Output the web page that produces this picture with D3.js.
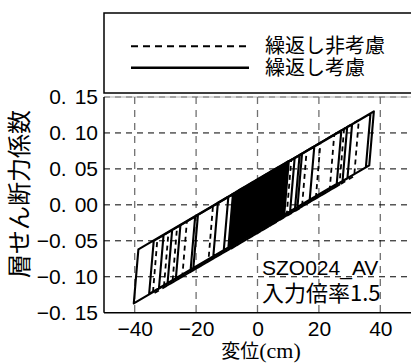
<!DOCTYPE html>
<meta charset="utf-8">
<style>
body { margin: 0; background: #fff; }
svg { display: block; background: #fff; }
.tick text { font-family: "Liberation Sans", Arial, sans-serif; font-size: 21px; fill: #000; }
.jp { font-family: "Noto Sans CJK JP", sans-serif; fill: #000; }
</style>

<svg width="411" height="363"></svg>

<script src="https://d3js.org/d3.v7.min.js"></script>
<script>

// tick values and labels
var xTicks = [-40, -20, 0, 20, 40];
var yTicks = [-0.15, -0.10, -0.05, 0.00, 0.05, 0.10, 0.15];
var seriesNames = ["繰返し非考慮", "繰返し考慮"];
var caseLabels = ["SZO024_AV", "入力倍率1.5"];

// 繰返し非考慮 : hysteresis path vertices [変位 cm, 層せん断力係数]
var dashedPath = [
  [0, 0.000],
  [2.8, 0.042], [1.3, -0.036],
  [-3.6, -0.048], [-2.1, 0.030],
  [6.0, 0.050], [4.5, -0.028],
  [-6.8, -0.056], [-5.3, 0.022],
  [8.4, 0.056], [6.9, -0.022],
  [-1.0, -0.042], [0.5, 0.036],
  [11.0, 0.063], [9.5, -0.015],
  [-9.0, -0.062], [-7.5, 0.016],
  [16.0, 0.075], [14.5, -0.003],
  [-24.5, -0.100], [-23.0, -0.023],
  [25.0, 0.098], [23.5, 0.020],
  [-30.5, -0.115], [-29.0, -0.038],
  [33.0, 0.118], [31.5, 0.040],
  [-34.1, -0.124], [-32.6, -0.047],
  [28.2, 0.106], [26.7, 0.028],
  [-27.7, -0.108], [-26.2, -0.031],
  [20.5, 0.086], [19.0, 0.009],
  [-16.0, -0.079], [-14.5, -0.001],
  [9.8, 0.060], [8.3, -0.018],
  [-8.2, -0.060], [-6.7, 0.018],
  [7.2, 0.053], [5.7, -0.025],
  [-5.5, -0.053], [-4.0, 0.025],
  [4.2, 0.046], [2.7, -0.032],
  [-2.5, -0.045], [-1.0, 0.033],
  [2.0, 0.040], [0.5, -0.038],
  [-0.5, -0.040]
];

// 繰返し考慮 : hysteresis path vertices [変位 cm, 層せん断力係数]
var solidPath = [
  [0, 0.000],
  [3.3, 0.043], [1.8, -0.032],
  [-4.3, -0.047], [-2.8, 0.028],
  [5.5, 0.049], [4.0, -0.026],
  [-2.8, -0.043], [-1.3, 0.032],
  [2.5, 0.041], [1.0, -0.034],
  [-6.5, -0.052], [-5.0, 0.023],
  [7.0, 0.053], [5.5, -0.022],
  [-1.3, -0.039], [0.2, 0.036],
  [1.0, 0.038], [-0.5, -0.037],
  [-5.0, -0.049], [-3.5, 0.026],
  [8.6, 0.057], [7.1, -0.018],
  [-3.5, -0.045], [-2.0, 0.030],
  [4.0, 0.045], [2.5, -0.030],
  [-8.0, -0.056], [-6.5, 0.019],
  [6.3, 0.051], [4.8, -0.024],
  [0.2, -0.036], [1.7, 0.039],
  [10.2, 0.061], [8.7, -0.014],
  [-7.3, -0.054], [-5.8, 0.021],
  [-0.5, 0.034], [-2.0, -0.041],
  [-5.8, -0.051], [-4.3, 0.024],
  [9.3, 0.058], [7.8, -0.017],
  [-2.0, -0.041], [-0.5, 0.034],
  [4.8, 0.047], [3.3, -0.028],
  [-8.8, -0.058], [-7.3, 0.017],
  [1.8, 0.040], [0.3, -0.035],
  [-0.8, -0.038], [0.7, 0.037],
  [7.8, 0.055], [6.3, -0.020],
  [-9.5, -0.060], [-8.0, 0.015],
  [12.1, 0.065], [10.6, -0.010],
  [-14.4, -0.072], [-12.9, 0.003],
  [13.7, 0.069], [12.2, -0.006],
  [-21.8, -0.091], [-20.3, -0.016],
  [18.5, 0.081], [17.0, 0.007],
  [-26.6, -0.103], [-25.1, -0.028],
  [27.3, 0.103], [25.8, 0.029],
  [-32.1, -0.116], [-30.6, -0.042],
  [30.8, 0.112], [29.3, 0.037],
  [-40.3, -0.137], [-38.8, -0.062],
  [37.9, 0.130], [36.4, 0.055],
  [-35.3, -0.124], [-33.8, -0.050],
  [36.8, 0.127], [35.3, 0.052],
  [-29.3, -0.109], [-27.8, -0.035],
  [29.2, 0.108], [27.7, 0.033],
  [-20.9, -0.088], [-19.4, -0.014],
  [14.5, 0.071], [13.0, -0.004],
  [-11.0, -0.064], [-9.5, 0.011],
  [9.0, 0.058], [7.5, -0.017],
  [-7.7, -0.055], [-6.2, 0.020],
  [5.9, 0.050], [4.4, -0.025],
  [-4.7, -0.048], [-3.2, 0.027],
  [3.7, 0.044], [2.2, -0.031],
  [-6.1, -0.051], [-4.6, 0.024],
  [2.1, 0.040], [0.6, -0.035],
  [-2.4, -0.042], [-0.9, 0.033],
  [6.7, 0.052], [5.2, -0.023],
  [-3.9, -0.046], [-2.4, 0.029],
  [1.4, 0.039], [-0.1, -0.036],
  [-1.7, -0.040], [-0.2, 0.035],
  [4.4, 0.046], [2.9, -0.029],
  [0.5, -0.035], [2.0, 0.040],
  [3.0, 0.043], [1.5, -0.032],
  [-9.1, -0.059], [-7.6, 0.016],
  [5.1, 0.048], [3.6, -0.027],
  [-0.3, -0.037], [1.2, 0.038],
  [8.0, 0.055], [6.5, -0.020],
  [-4.5, -0.047], [-3.0, 0.028],
  [2.3, 0.041], [0.8, -0.034],
  [-6.3, -0.052], [-4.8, 0.023],
  [9.6, 0.059], [8.1, -0.016],
  [-2.2, -0.042], [-0.7, 0.033],
  [4.6, 0.047], [3.1, -0.028],
  [-8.5, -0.057], [-7.0, 0.018],
  [1.2, 0.038], [-0.3, -0.037],
  [-3.7, -0.045], [-2.2, 0.030],
  [7.3, 0.053], [5.8, -0.022],
  [-1.0, -0.039], [0.5, 0.036],
  [3.5, 0.044], [2.0, -0.031],
  [-5.5, -0.050], [-4.0, 0.025],
  [6.1, 0.050], [4.6, -0.025],
  [0.0, -0.036], [1.5, 0.039],
  [9.9, 0.060], [8.4, -0.015],
  [-7.0, -0.054], [-5.5, 0.021],
  [2.7, 0.042], [1.2, -0.033],
  [-2.6, -0.043], [-1.1, 0.032],
  [5.7, 0.049], [4.2, -0.026],
  [-4.1, -0.046], [-2.6, 0.029],
  [8.3, 0.056], [6.8, -0.019],
  [-1.5, -0.040], [0.0, 0.035],
  [0.5, 0.036], [-1.0, -0.039],
  [-5.3, -0.049], [-3.8, 0.026],
  [6.5, 0.051], [5.0, -0.024],
  [-3.1, -0.044], [-1.6, 0.031],
  [8.9, 0.057], [7.4, -0.018],
  [-7.9, -0.056], [-6.4, 0.019],
  [3.9, 0.045], [2.4, -0.030],
  [0.8, -0.034], [2.3, 0.041],
  [7.6, 0.054], [6.1, -0.021],
  [-6.8, -0.053], [-5.3, 0.022],
  [4.2, 0.046], [2.7, -0.029],
  [-0.6, -0.038], [0.9, 0.037],
  [1.6, 0.039], [0.1, -0.036],
  [-0.5, -0.037]
];

var svg = d3.select("svg");

var plotLeft = 104, plotRight = 411, plotTop = 97, plotBottom = 312.7;

var x = d3.scaleLinear().domain([-50, 50]).range([plotLeft, plotRight]);
var y = d3.scaleLinear().domain([-0.15, 0.15]).range([plotBottom, plotTop]);

svg.append("clipPath").attr("id", "plotclip")
  .append("rect")
    .attr("x", plotLeft).attr("y", plotTop)
    .attr("width", plotRight - plotLeft).attr("height", plotBottom - plotTop);

// top frame (light)
svg.append("line")
    .attr("x1", plotLeft).attr("x2", plotRight)
    .attr("y1", plotTop).attr("y2", plotTop)
    .attr("stroke", "#b0b0b0").attr("stroke-width", 1);

// grid
svg.append("g").selectAll("line")
  .data(xTicks)
  .enter().append("line")
    .attr("x1", function(d) { return x(d); })
    .attr("x2", function(d) { return x(d); })
    .attr("y1", plotTop).attr("y2", plotBottom)
    .attr("stroke", "#707070")
    .attr("stroke-width", 1.3)
    .attr("stroke-dasharray", "7,6");

svg.append("g").selectAll("line")
  .data(yTicks.filter(function(d) { return d > -0.15; }))
  .enter().append("line")
    .attr("x1", plotLeft).attr("x2", plotRight)
    .attr("y1", function(d) { return y(d); })
    .attr("y2", function(d) { return y(d); })
    .attr("stroke", function(d) { return d > 0.14 ? "#707070" : "#000"; })
    .attr("stroke-width", 1)
    .attr("stroke-dasharray", "6,5");

// hysteresis loops
var line = d3.line()
    .x(function(d) { return x(d[0]); })
    .y(function(d) { return y(d[1]); });

var plot = svg.append("g").attr("clip-path", "url(#plotclip)");

plot.append("path")
    .datum(dashedPath)
    .attr("d", line)
    .attr("fill", "none")
    .attr("stroke", "#000")
    .attr("stroke-width", 1.8)
    .attr("stroke-dasharray", "5,4");

plot.append("path")
    .datum(solidPath)
    .attr("d", line)
    .attr("fill", "none")
    .attr("stroke", "#000")
    .attr("stroke-width", 2.1)
    .attr("stroke-linejoin", "round");

// axes
var fmt = d3.format(".2f");

var yAxis = svg.append("g")
    .attr("transform", "translate(" + plotLeft + ",0)")
    .call(d3.axisLeft(y).tickValues(yTicks).tickSize(0).tickPadding(6).tickFormat(fmt));
yAxis.select(".domain").remove();
yAxis.selectAll(".tick text").each(function(d) {
  var parts = fmt(d).split(".");
  var t = d3.select(this).text("");
  t.append("tspan").text(parts[0] + ".");
  t.append("tspan").attr("dx", 8).text(parts[1]);
});

var xAxis = svg.append("g")
    .attr("transform", "translate(0," + plotBottom + ")")
    .call(d3.axisBottom(x).tickValues(xTicks).tickSize(0).tickPadding(8));
xAxis.select(".domain").remove();

svg.append("line")
    .attr("x1", plotLeft).attr("x2", plotLeft)
    .attr("y1", plotTop).attr("y2", plotBottom)
    .attr("stroke", "#000").attr("stroke-width", 1.5);
svg.append("line")
    .attr("x1", plotLeft).attr("x2", plotRight)
    .attr("y1", plotBottom).attr("y2", plotBottom)
    .attr("stroke", "#000").attr("stroke-width", 1.5);

// axis titles
svg.append("text")
    .attr("class", "jp")
    .attr("transform", "translate(28,194) rotate(-90)")
    .attr("text-anchor", "middle")
    .attr("font-size", 24)
    .text("層せん断力係数");

var xt = svg.append("text")
    .attr("class", "jp")
    .attr("x", 261).attr("y", 358)
    .attr("text-anchor", "middle")
    .attr("font-size", 19);
xt.append("tspan").text("変位");
xt.append("tspan")
    .attr("font-family", "'Liberation Serif', serif")
    .attr("font-size", 22)
    .text("(cm)");

// case label
svg.append("text")
    .attr("x", 262).attr("y", 275)
    .attr("font-family", "'Liberation Sans', Arial, sans-serif")
    .attr("font-size", 21)
    .text(caseLabels[0]);
svg.append("text")
    .attr("class", "jp")
    .attr("x", 262).attr("y", 301)
    .attr("font-size", 22)
    .text(caseLabels[1]);

// legend
svg.append("rect")
    .attr("x", plotLeft).attr("y", 13)
    .attr("width", 330).attr("height", 80)
    .attr("fill", "#fff")
    .attr("stroke", "#000")
    .attr("stroke-width", 1.5);

var legend = svg.append("g").selectAll("g")
  .data(seriesNames)
  .enter().append("g")
    .attr("transform", function(d, i) { return "translate(0," + (46.3 + i * 21.5) + ")"; });

legend.append("line")
    .attr("x1", 131).attr("x2", 249)
    .attr("y1", 0).attr("y2", 0)
    .attr("stroke", "#000")
    .attr("stroke-width", function(d, i) { return i == 0 ? 2 : 2.6; })
    .attr("stroke-dasharray", function(d, i) { return i == 0 ? "7,5" : null; });

legend.append("text")
    .attr("class", "jp")
    .attr("x", 265)
    .attr("dy", "0.35em")
    .attr("font-size", 20)
    .text(function(d) { return d; });

</script>
